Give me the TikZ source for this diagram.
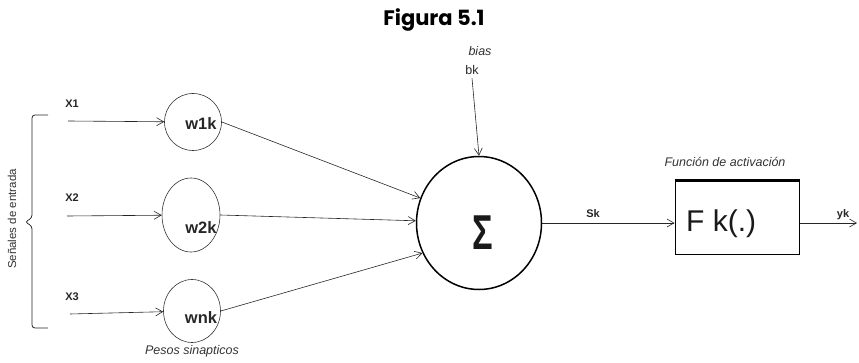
\documentclass[tikz,border=0pt]{standalone}
\usepackage{fontspec}
\setmainfont{Liberation Sans}
\newfontfamily\titlefont{Poppins}
\usetikzlibrary{shapes,arrows.meta,positioning,calc}

\begin{document}
\begin{tikzpicture}[x=1pt, y=-1pt,
        weight/.style={
            ellipse, draw=black!80, line width=0.6pt, inner sep=0pt
        },
        wlabel/.style={font=\fontsize{16.5}{16.5}\selectfont\bfseries, text=black!85},
        inlabel/.style={font=\fontsize{11}{11}\selectfont\bfseries, text=black!85},
        note/.style={font=\fontsize{12.5}{12.5}\selectfont\itshape, text=black!80},
        sumnode/.style={
            ellipse, draw=black, line width=1.5pt, inner sep=0pt,
            minimum width=125pt, minimum height=133pt
        },
        actbox/.style={
            rectangle, draw=black, line width=1pt, inner sep=0pt,
            minimum width=124pt, minimum height=74pt
        },
        arr/.style={-{Straight Barb[length=7pt,width=8pt]}, line width=0.6pt, draw=black!85}
    ]
    \useasboundingbox (0,0) rectangle (859,363);

    % Title
    \node[font=\titlefont\fontsize{21}{21}\selectfont\bfseries, anchor=base] (title) at (434,26) {Figura 5.1};

    % Input signals
    \coordinate (x1) at (68,121);
    \coordinate (x2) at (67,216);
    \coordinate (x3) at (70,314);
    \node[inlabel] (lx1) at (72,104) {X1};
    \node[inlabel] (lx2) at (72,198) {X2};
    \node[inlabel] (lx3) at (72,297) {X3};

    % Brace
    \draw[line width=0.8pt, black!85, rounded corners=3pt]
        (48,115) -- (32,115) -- (32,218) -- (25,222) -- (32,226) -- (32,328) -- (48,328);
    \node[rotate=90, font=\fontsize{11.5}{11.5}\selectfont, text=black!80] (senales) at (12,219) {Señales de entrada};

    % Weights
    \node[weight, minimum width=57pt, minimum height=57pt] (w1) at (193,122) {};
    \node[weight, minimum width=58pt, minimum height=74pt] (w2) at (191,215) {};
    \node[weight, minimum width=57pt, minimum height=63pt] (w3) at (192,311) {};
    \node[wlabel] (w1k) at (201,124) {w1k};
    \node[wlabel] (w2k) at (201,228) {w2k};
    \node[wlabel] (wnk) at (201,318) {wnk};
    \node[note] (pesos) at (192,351) {Pesos sinapticos};

    % Summing junction
    \node[sumnode] (sum) at (479,223) {};
    \node[text=black!90] (sigma) at (483,232.5) {\scalebox{0.7}[1]{\fontsize{49}{49}\selectfont\bfseries Σ}};
    \node[note] (bias) at (480,51) {bias};
    \node[font=\fontsize{12.5}{12.5}\selectfont, text=black!85] (bk) at (472,70) {bk};

    % Activation
    \node[actbox] (fk) at (737,218) {};
    \draw[line width=2.2pt] (fk.north west) -- (fk.north east);
    \node[font=\fontsize{30}{30}\selectfont, text=black!90, anchor=base west, inner sep=0pt] (fktext) at (686,232) {F k(.)};
    \node[note] (activ) at (725,162) {Función de activación};
    \coordinate (yout) at (857,223);
    \node[inlabel] (sk) at (593,214) {Sk};
    \node[inlabel] (yk) at (843,215) {yk};

    % Arrows
    \draw[arr] (x1) -- (w1);
    \draw[arr] (x2) -- (w2);
    \draw[arr] (x3) -- (w3);
    \draw[arr] (w1.east) -- (sum.157);
    \draw[arr] (w2.east) -- (sum.178);
    \draw[arr] (w3.east) -- (sum.208);
    \draw[arr] (bk.south) -- (sum.north);
    \draw[arr] (sum.east) -- (fk.west |- sum.east);
    \draw[arr] (fk.east |- yout) -- (yout);
\end{tikzpicture}
\end{document}
